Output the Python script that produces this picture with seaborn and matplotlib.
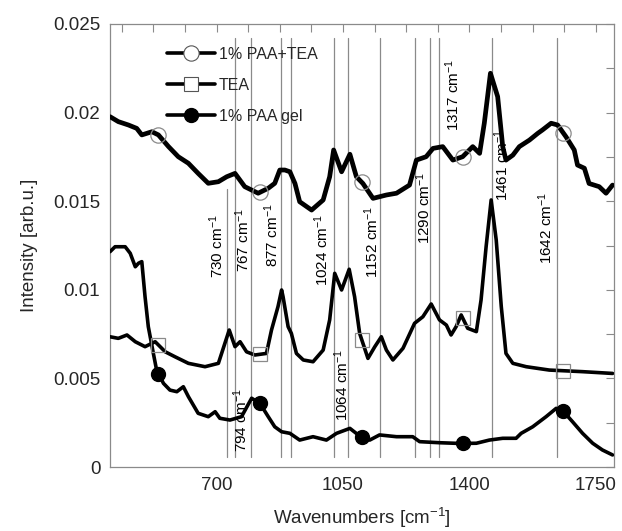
import numpy as np
import pandas as pd
import matplotlib
matplotlib.use("Agg")
import matplotlib.pyplot as plt
from matplotlib.lines import Line2D
from matplotlib.ticker import MultipleLocator, FixedLocator, FixedFormatter
import seaborn as sns

# 1% PAA+TEA (top trace)
paa_tea_wn = [405, 428, 456, 479, 493, 521, 539, 567, 594, 622, 649, 677, 705, 728, 751, 778,
              815, 843, 861, 875, 889, 903, 917, 930, 963, 995, 1013, 1024, 1046, 1069, 1087,
              1105, 1133, 1170, 1198, 1234, 1253, 1280, 1299, 1326, 1354, 1381, 1409, 1428,
              1441, 1458, 1478, 1492, 1501, 1520, 1538, 1566, 1589, 1602, 1626, 1644, 1667,
              1690, 1699, 1718, 1731, 1759, 1778, 1796]
paa_tea_int = [0.01977, 0.01949, 0.0193, 0.01911, 0.01874, 0.01892, 0.01874, 0.01808, 0.01751,
               0.01714, 0.01657, 0.01601, 0.0161, 0.01638, 0.01657, 0.01582, 0.01545, 0.01573,
               0.01601, 0.01676, 0.01676, 0.01666, 0.016, 0.01497, 0.0145, 0.01507, 0.01638,
               0.01789, 0.01666, 0.01765, 0.01638, 0.016, 0.01516, 0.01535, 0.01545, 0.01591,
               0.01732, 0.01751, 0.01798, 0.01808, 0.01732, 0.01751, 0.01808, 0.0177, 0.0194,
               0.02222, 0.0209, 0.01808, 0.01732, 0.0176, 0.01808, 0.01845, 0.01883, 0.01902,
               0.0194, 0.0193, 0.01864, 0.01789, 0.01704, 0.01686, 0.016, 0.01582, 0.01545,
               0.01591]

# TEA (middle trace)
tea_wn = [405, 428, 452, 475, 502, 530, 558, 585, 622, 668, 705, 723, 735, 751, 765, 783, 806,
          838, 852, 870, 880, 884, 898, 907, 921, 940, 967, 995, 1013, 1027, 1046, 1067, 1082,
          1096, 1119, 1138, 1156, 1170, 1188, 1216, 1248, 1271, 1294, 1317, 1336, 1349, 1363,
          1377, 1395, 1419, 1432, 1446, 1460, 1474, 1488, 1501, 1520, 1557, 1621, 1713, 1796]
tea_int = [0.00735, 0.00726, 0.00745, 0.00707, 0.00679, 0.00707, 0.0065, 0.00622, 0.00585,
           0.00566, 0.00585, 0.00698, 0.00773, 0.00679, 0.00707, 0.0065, 0.00632, 0.00641,
           0.00773, 0.00905, 0.00999, 0.00961, 0.00792, 0.00754, 0.00641, 0.00604, 0.00594,
           0.0066, 0.0083, 0.01093, 0.00999, 0.01116, 0.00961, 0.00754, 0.00613, 0.00679,
           0.00735, 0.0066, 0.00604, 0.0067, 0.00811, 0.00848, 0.0092, 0.0083, 0.00801,
           0.00745, 0.00792, 0.00858, 0.00783, 0.00764, 0.00942, 0.01243, 0.01507, 0.01281,
           0.00905, 0.00641, 0.00585, 0.00566, 0.00547, 0.00538, 0.00528]

# 1% PAA gel (bottom trace)
gel_wn = [405, 419, 447, 461, 475, 484, 493, 502, 511, 525, 534, 553, 571, 590, 608, 622, 649,
          677, 696, 709, 737, 769, 797, 820, 843, 861, 880, 903, 930, 967, 1004, 1032, 1069,
          1096, 1124, 1151, 1198, 1243, 1262, 1317, 1372, 1419, 1455, 1492, 1529, 1543, 1575,
          1612, 1640, 1658, 1685, 1713, 1741, 1768, 1796]
gel_int = [0.01215, 0.01243, 0.01243, 0.01206, 0.0113, 0.0115, 0.01159, 0.00961, 0.00792,
           0.00641, 0.00547, 0.00472, 0.00434, 0.00425, 0.00453, 0.00397, 0.00303, 0.00284,
           0.00312, 0.00275, 0.00265, 0.00284, 0.00388, 0.00359, 0.00284, 0.00227, 0.00199,
           0.0019, 0.00152, 0.00171, 0.00152, 0.0019, 0.00218, 0.00175, 0.00152, 0.00181,
           0.00171, 0.00171, 0.00143, 0.00137, 0.00133, 0.00134, 0.00152, 0.00162, 0.00162,
           0.0019, 0.00227, 0.00284, 0.00331, 0.00318, 0.00256, 0.0019, 0.00134, 0.00096,
           0.00068]

marker_wn = [539, 820, 1102, 1381, 1660]

band_lines = [730, 750, 794, 877, 905, 1024, 1064, 1152, 1250, 1290, 1317, 1461, 1642]

band_labels = ["730", "767", "877", "1024", "1152", "1290", "1317", "1461", "1642", "794", "1064"]
band_label_x = [701, 773, 852, 991, 1129, 1273, 1353, 1488, 1610, 767, 1046]
band_label_y = [0.01247, 0.01281, 0.01309, 0.01225, 0.0127, 0.01462, 0.0210, 0.01704,
                0.01349, 0.00265, 0.00463]

y_ticks = [0, 0.005, 0.01, 0.015, 0.02, 0.025]
y_tick_labels = ["0", "0.005", "0.01", "0.015", "0.02", "0.025"]
x_ticks = [700, 1050, 1400, 1750]

sns.set_theme(style="white")
plt.rcParams["font.family"] = ["Liberation Sans", "DejaVu Sans"]
plt.rcParams["mathtext.default"] = "regular"

fig, ax = plt.subplots(figsize=(6.22, 5.31), dpi=100)
fig.subplots_adjust(left=110 / 622, right=614 / 622, top=1 - 24 / 531, bottom=1 - 467 / 531)

grey = "#8a8a8a"

# band marker lines
for wn in band_lines:
    top = 0.0157 if wn == 730 else 0.0242
    ax.plot([wn, wn], [0.00056, top], color=grey, lw=0.9, zorder=1)

df_top = pd.DataFrame({"wn": paa_tea_wn, "I": paa_tea_int})
df_tea = pd.DataFrame({"wn": tea_wn, "I": tea_int})
df_gel = pd.DataFrame({"wn": gel_wn, "I": gel_int})

sns.lineplot(data=df_top, x="wn", y="I", ax=ax, color="black", lw=3.4, zorder=3)
sns.lineplot(data=df_tea, x="wn", y="I", ax=ax, color="black", lw=2.6, zorder=3)
sns.lineplot(data=df_gel, x="wn", y="I", ax=ax, color="black", lw=2.6, zorder=3)

ax.plot(marker_wn, np.interp(marker_wn, paa_tea_wn, paa_tea_int), ls="none", marker="o",
        ms=11, mfc="none", mec=grey, mew=0.9, zorder=4)
ax.plot(marker_wn, np.interp(marker_wn, tea_wn, tea_int), ls="none", marker="s",
        ms=10, mfc="none", mec=grey, mew=0.9, zorder=4)
ax.plot(marker_wn, np.interp(marker_wn, gel_wn, gel_int), ls="none", marker="o",
        ms=10, mfc="black", mec="black", zorder=4)

for lab, lx, ly in zip(band_labels, band_label_x, band_label_y):
    ax.text(lx, ly, lab + r" cm$^{-1}$", rotation=90, ha="center", va="center",
            fontsize=11, color="black", zorder=5)

ax.set_xlim(405, 1800)
ax.set_ylim(0, 0.025)
ax.xaxis.set_major_locator(FixedLocator(x_ticks))
ax.xaxis.set_minor_locator(MultipleLocator(87.5))
ax.yaxis.set_major_locator(FixedLocator(y_ticks))
ax.yaxis.set_major_formatter(FixedFormatter(y_tick_labels))
ax.yaxis.set_minor_locator(MultipleLocator(0.0025))
ax.tick_params(which="both", direction="in", top=True, right=True, length=6,
               width=0.8, color=grey, labelsize=13.5, pad=7)
for s in ax.spines.values():
    s.set_color(grey)
    s.set_linewidth(0.9)

ax.set_xlabel(r"Wavenumbers [cm$^{-1}$]", fontsize=13.5, labelpad=9)
ax.set_ylabel("Intensity [arb.u.]", fontsize=13.5, labelpad=11)

handles = [
    Line2D([], [], color="black", lw=2.6, marker="o", ms=11, mfc="white", mec="#555555", mew=0.8),
    Line2D([], [], color="black", lw=2.6, marker="s", ms=10, mfc="white", mec="#555555", mew=0.8),
    Line2D([], [], color="black", lw=2.6, marker="o", ms=10, mfc="black", mec="black"),
]
ax.legend(handles, ["1% PAA+TEA", "TEA", "1% PAA gel"], loc="upper left",
          bbox_to_anchor=(0.113, 0.948), frameon=False, fontsize=11.5, handlelength=3.0,
          handletextpad=0.25, labelspacing=1.0, borderpad=0, borderaxespad=0)

fig.savefig("out.png", dpi=100)
